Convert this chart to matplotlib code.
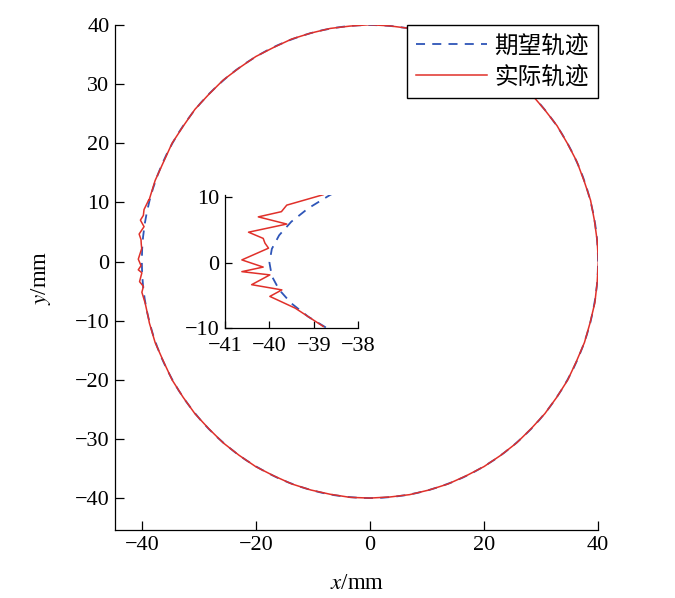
import numpy as np
import matplotlib.pyplot as plt

plt.rcParams['font.family'] = ['Liberation Serif', 'Noto Sans CJK SC']
plt.rcParams['mathtext.fontset'] = 'stix'

# desired trajectory: circle, radius 40 mm
des_angle = list(range(0, 361, 3))
des_r = [40.0] * len(des_angle)

act_angle = [-165, -160, -155, -150, -145, -140, -135, -130, -125, -120,
             -115, -110, -105, -100, -95, -90, -85, -80, -75, -70,
             -65, -60, -55, -50, -45, -40, -35, -30, -25, -20,
             -15, -10, -5, 0, 5, 10, 15, 20, 25, 30,
             35, 40, 45, 50, 55, 60, 65, 70, 75, 80,
             85, 90, 95, 100, 105, 110, 115, 120, 125, 130,
             135, 140, 145, 150, 155, 160, 165]
act_r = [40.05, 40.08, 39.95, 40.05, 40.0, 40.05, 39.97, 40.03, 40.0, 40.05,
         39.97, 40.03, 40.0, 39.97, 40.03, 40.0, 39.97, 40.03, 40.0, 40.03,
         39.97, 40.03, 40.0, 40.03, 39.97, 40.03, 40.0, 40.05, 39.95, 40.03,
         39.97, 40.05, 40.0, 40.05, 40.0, 39.97, 40.05, 39.95, 40.03, 39.97,
         40.05, 39.97, 40.03, 40.0, 39.97, 40.03, 40.0, 40.05, 39.97, 40.03,
         40.0, 40.05, 39.97, 40.03, 40.0, 40.05, 39.95, 40.03, 39.97, 40.05,
         39.97, 40.05, 39.95, 40.05, 39.92, 40.08, 40.1]

# actual trajectory near x = -40 (zoomed detail), top to bottom
zoom_x = [-38.79, -39.61, -39.73, -40.25, -39.61, -40.47, -40.14, -40.10,
          -40.02, -40.62, -40.14, -40.62, -39.99, -40.40, -39.72, -39.99,
          -39.42, -38.79]
zoom_y = [10.4, 8.8, 7.8, 7.0, 5.9, 4.65, 3.7, 2.97,
          2.2, 0.4, -0.7, -1.4, -1.9, -3.4, -4.2, -5.2,
          -7.0, -9.8]

blue = '#2e55b8'
red = '#e0302a'

th = np.deg2rad(des_angle)
dx = np.array(des_r) * np.cos(th)
dy = np.array(des_r) * np.sin(th)

ta = np.deg2rad(act_angle)
ax_x = np.concatenate([zoom_x, np.array(act_r) * np.cos(ta), zoom_x[:1]])
ax_y = np.concatenate([zoom_y, np.array(act_r) * np.sin(ta), zoom_y[:1]])

fig = plt.figure(figsize=(6.75, 5.98), dpi=100)
ax = fig.add_axes([0.1704, 0.1137, 0.7156, 0.8445])
ax.plot(dx, dy, '--', color=blue, lw=1.3, dashes=(5, 4), label='期望轨迹')
ax.plot(ax_x, ax_y, '-', color=red, lw=1.1, label='实际轨迹')
ax.set_xlim(-44.7, 40)
ax.set_ylim(-45.4, 40)
ax.set_xticks([-40, -20, 0, 20, 40])
ax.set_yticks([-40, -30, -20, -10, 0, 10, 20, 30, 40])
ax.spines['top'].set_visible(False)
ax.spines['right'].set_visible(False)
for s in ax.spines.values():
    s.set_linewidth(0.9)
ax.tick_params(direction='in', length=6.5, width=0.9, labelsize=16, pad=4)
ax.set_xlabel('$x$/mm', fontsize=16.5)
ax.set_ylabel('$y$/mm', fontsize=16.5)
ax.xaxis.set_label_coords(0.501, -0.086)
ax.yaxis.set_label_coords(-0.128, 0.5)
leg = ax.legend(loc='upper right', bbox_to_anchor=(1.0, 1.0), borderaxespad=0,
                fancybox=False, framealpha=1, edgecolor='black',
                prop={'family': 'Noto Sans CJK SC', 'size': 17},
                handlelength=3.0, handletextpad=0.3, labelspacing=0.35,
                borderpad=0.4)
leg.get_frame().set_linewidth(1.0)

ins = fig.add_axes([0.3333, 0.4520, 0.1975, 0.2224])
ins.plot(dx, dy, '--', color=blue, lw=1.3, dashes=(5, 4))
ins.plot(zoom_x, zoom_y, '-', color=red, lw=1.1)
ins.set_xlim(-41, -38)
ins.set_ylim(-10, 10.4)
ins.set_xticks([-41, -40, -39, -38])
ins.set_yticks([-10, 0, 10])
ins.spines['top'].set_visible(False)
ins.spines['right'].set_visible(False)
for s in ins.spines.values():
    s.set_linewidth(0.9)
ins.tick_params(direction='in', length=5, width=0.9, labelsize=16, pad=4)
ins.tick_params(axis='x', pad=7)
ins.patch.set_alpha(0)

plt.savefig('out.png', dpi=100)
plt.close()
